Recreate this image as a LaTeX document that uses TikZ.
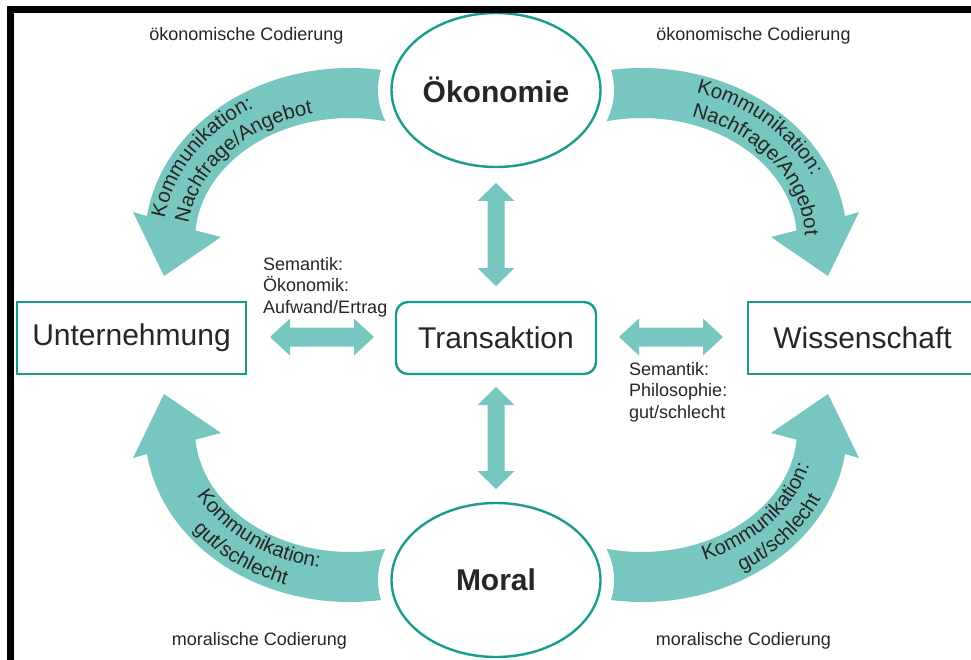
\documentclass[tikz,border=0pt]{standalone}
\usepackage{fontspec}
\setmainfont{Liberation Sans}
\usetikzlibrary{shapes.geometric,decorations.text,calc}
\definecolor{tealline}{RGB}{24,156,140}
\definecolor{tealfill}{RGB}{119,199,192}
\definecolor{txt}{RGB}{38,38,38}
\newcommand\arcfont{\fontsize{20.5}{24}\selectfont}
\newcommand\bandarrow{\fill[tealfill] (426.79,80.52) arc[start angle=292,end angle=188,x radius=205,y radius=172] -- (133,212) -- (164,276) -- (221,237) -- (195.48,230.43) arc[start angle=184.5,end angle=292,x radius=155,y radius=122] -- cycle;}
\newcommand\hdbl[3]{\fill[tealfill] (#1,#3) -- ({#1+20},{#3-18.5}) -- ({#1+20},{#3-9.5}) -- ({#2-20},{#3-9.5}) -- ({#2-20},{#3-18.5}) -- (#2,#3) -- ({#2-20},{#3+18.5}) -- ({#2-20},{#3+9.5}) -- ({#1+20},{#3+9.5}) -- ({#1+20},{#3+18.5}) -- cycle;}
\newcommand\vdbl[3]{\fill[tealfill] (#1,#2) -- ({#1+18.5},{#2+18}) -- ({#1+8.5},{#2+18}) -- ({#1+8.5},{#3-18}) -- ({#1+18.5},{#3-18}) -- (#1,#3) -- ({#1-18.5},{#3-18}) -- ({#1-8.5},{#3-18}) -- ({#1-8.5},{#2+18}) -- ({#1-18.5},{#2+18}) -- cycle;}
\newcommand\arctext[7]{\path[decorate,decoration={text along path,text align=center,text={|\arcfont\color{txt}|#7}}] ($(#1,#2)+(#5:#3 and #4)$) arc[start angle=#5,end angle=#6,x radius=#3,y radius=#4];}
\begin{document}
\begin{tikzpicture}[x=1pt,y=-1pt,
  box/.style={draw=tealline,line width=2.4pt,fill=white,minimum width=229pt,minimum height=72pt,inner sep=0pt,font=\fontsize{30}{36}\selectfont,text=txt},
  oval/.style={ellipse,draw=tealline,line width=2.4pt,fill=white,minimum width=209pt,minimum height=154pt,inner sep=0pt,font=\bfseries\fontsize{30}{36}\selectfont,text=txt},
  lab/.style={inner sep=0pt,font=\fontsize{18}{21.5}\selectfont,text=txt}]
\useasboundingbox (0,0) rectangle (971,660);
\fill[white] (0,0) rectangle (971,660);
% curved block arrows
\bandarrow
\begin{scope}[shift={(992,0)},xscale=-1]\bandarrow\end{scope}
\begin{scope}[shift={(0,670)},yscale=-1]\bandarrow\end{scope}
\begin{scope}[shift={(992,670)},xscale=-1,yscale=-1]\bandarrow\end{scope}
\fill[white] (496,90) ellipse[x radius=118,y radius=88];
\fill[white] (496,580) ellipse[x radius=118,y radius=88];
% texts on curved arrows
\arctext{350}{240}{187}{154}{167}{257}{Kommunikation:}
\arctext{350}{240}{163}{130}{176}{266}{Nachfrage/Angebot}
\arctext{642}{240}{187}{154}{268}{358}{Kommunikation:}
\arctext{642}{240}{163}{130}{279}{369}{Nachfrage/Angebot}
\arctext{350}{430}{173}{140}{173}{83}{Kommunikation:}
\arctext{350}{430}{197}{164}{173}{83}{gut/schlecht}
\arctext{642}{430}{173}{140}{85}{-5}{Kommunikation:}
\arctext{642}{430}{197}{164}{85}{-5}{gut/schlecht}
% nodes
\node[oval] (oek) at (496,90) {Ökonomie};
\node[oval] (mor) at (496,580) {Moral};
\node[box,rounded corners=12pt,minimum width=200pt] (tra) at (496,338) {Transaktion};
\node[box] (unt) at (131.5,338) {Unternehmung};
\node[box] (wis) at (862.5,338) {Wissenschaft};
% straight block arrows
\hdbl{270}{374}{337}
\hdbl{619}{723}{337}
\vdbl{496}{183}{286}
\vdbl{496}{387}{489}
% labels
\node[lab] (c1) at (246.5,35.5) {ökonomische Codierung};
\node[lab] (c2) at (753.5,35.5) {ökonomische Codierung};
\node[lab] (c3) at (259.5,640.5) {moralische Codierung};
\node[lab] (c4) at (743.5,640.5) {moralische Codierung};
\node[lab,align=left,anchor=north west] (s1) at (263,257) {Semantik:\\Ökonomik:\\Aufwand/Ertrag};
\node[lab,align=left,anchor=north west] (s2) at (629,362) {Semantik:\\Philosophie:\\gut/schlecht};
% frame
\draw[line width=7pt] (10.5,680) -- (10.5,9.5) -- (990,9.5);
\end{tikzpicture}
\end{document}
